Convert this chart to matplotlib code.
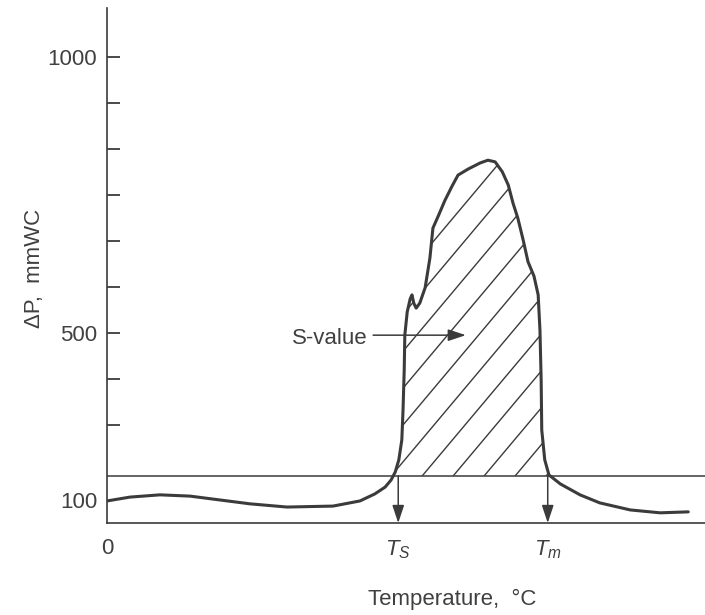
import matplotlib

matplotlib.use("Agg")
import matplotlib.pyplot as plt
import numpy as np
from matplotlib import font_manager

# curve (temperature in arbitrary units 0..100, dP in mmWC)
TEMP = [0, 3.85, 8.86, 13.9, 18.9, 23.9, 30.1, 37.8, 42.3, 44.8,
        46.5, 47.5, 48.2, 48.8, 49.3, 49.5, 49.7, 49.8, 50.2, 50.7,
        51.0, 51.3, 51.7, 52.3, 53.2, 54.0, 54.5, 55.4, 56.5, 57.7,
        58.7, 60.4, 62.4, 63.7, 64.9, 66.1, 67.1, 67.9, 68.7, 69.6,
        70.4, 71.4, 72.1, 72.4, 72.6, 72.7, 73.2, 73.9, 75.8, 79.1,
        82.4, 87.5, 92.5, 97.2]
DP = [97, 109, 116, 112, 100, 88, 78, 81, 97, 119,
      140, 162, 187, 225, 287, 360, 433, 496, 538, 562,
      569, 554, 545, 554, 582, 636, 690, 712, 740, 766,
      786, 797, 808, 813, 810, 792, 768, 735, 708, 668,
      629, 603, 569, 505, 415, 318, 225, 178, 150, 116,
      91, 69, 60, 63]

BASELINE = 175          # horizontal reference line
T_S = 48.7
T_M = 73.7
S_ARROW = (44.5, 60.0, 496)   # x start, x end, level of the S-value arrow

YTICKS = [100, 500, 1000]
YTICK_LABELS = ["100", "500", "1000"]
YMINOR = [333.3, 416.7, 583.3, 666.7, 750, 833.3, 916.7]
XTICKS = [0, T_S, T_M]
XTICK_LABELS = ["0", "$T_S$", "$T_m$"]

INK = "#3b3b3b"
TXT = "#404040"

names = {f.name for f in font_manager.fontManager.ttflist}
FONT = "Liberation Sans Narrow" if "Liberation Sans Narrow" in names else "Liberation Sans"
FS = 18 if FONT.endswith("Narrow") else 16
plt.rcParams["font.family"] = [FONT, "DejaVu Sans"]
plt.rcParams["mathtext.fontset"] = "custom"
plt.rcParams["mathtext.rm"] = FONT
plt.rcParams["mathtext.it"] = FONT + ":italic"

# schematic axis: linear above ~333, compressed below it
_V = [-5000, 100, 333.3, 10000]
_H = [-1614, 23, 98, 5434]


def fwd(v):
    return np.interp(v, _V, _H)


def inv(h):
    return np.interp(h, _H, _V)


fig = plt.figure(figsize=(7.05, 6.15), dpi=100)
ax = fig.add_axes([0.1518, 0.1496, 0.8482, 0.8374])
ax.set_yscale("function", functions=(fwd, inv))
ax.set_xlim(0, 100)
ax.set_ylim(28.3, 1088.7)

ax.plot(TEMP, DP, color=INK, lw=2.2, solid_joinstyle="round", solid_capstyle="round", zorder=4)
ax.axhline(BASELINE, color=INK, lw=1.1, zorder=3)

temp = np.array(TEMP)
dp = np.array(DP)
region = ax.fill_between(temp, dp, BASELINE, where=dp >= BASELINE, interpolate=True,
                         facecolor="none", edgecolor="none")
clip = region.get_paths()[0]

# sparse diagonal hatching, clipped to the S-value area
base_f = 0.0913
slope_f = 1.382
for k in range(-9, 6):
    x0 = 0.527 + k * 0.0518
    yy = np.array([0.0, 1.0])
    xx = x0 + (yy - base_f) / slope_f
    ln, = ax.plot(xx, yy, transform=ax.transAxes, color=INK, lw=1.0, zorder=2)
    ln.set_clip_path(clip, ax.transData)

arrow = dict(arrowstyle="-|>,head_length=0.6,head_width=0.2", color=INK, lw=1.1,
             shrinkA=0, shrinkB=0, mutation_scale=18)
for t in (T_S, T_M):
    ax.annotate("", xy=(t, 28.3), xytext=(t, BASELINE), arrowprops=arrow, zorder=5)

ax.annotate("", xy=(S_ARROW[1], S_ARROW[2]), xytext=(S_ARROW[0], S_ARROW[2]),
            arrowprops=arrow, zorder=5)
ax.text(S_ARROW[0] - 0.9, S_ARROW[2] - 6, "S-value", ha="right", va="center",
        fontsize=FS, color=TXT)

for side in ("top", "right"):
    ax.spines[side].set_visible(False)
for side in ("left", "bottom"):
    ax.spines[side].set_color(INK)
    ax.spines[side].set_linewidth(1.2)

ax.set_yticks(YTICKS)
ax.set_yticklabels(YTICK_LABELS)
ax.set_yticks(YMINOR, minor=True)
ax.tick_params(axis="y", which="both", direction="in", length=9.5, width=1.3,
               color=INK, labelsize=FS, labelcolor=TXT, pad=7)
ax.yaxis.get_major_ticks()[0].tick1line.set_visible(False)

ax.set_xticks(XTICKS)
ax.set_xticklabels(XTICK_LABELS)
ax.tick_params(axis="x", length=0, labelsize=FS, labelcolor=TXT, pad=11)

ax.set_ylabel("ΔP,  mmWC", fontsize=FS, color=TXT)
ax.yaxis.set_label_coords(-0.103, 0.495)
ax.set_xlabel("Temperature,  °C", fontsize=FS, color=TXT)
ax.xaxis.set_label_coords(0.577, -0.127)

fig.savefig("out.png", dpi=100)
